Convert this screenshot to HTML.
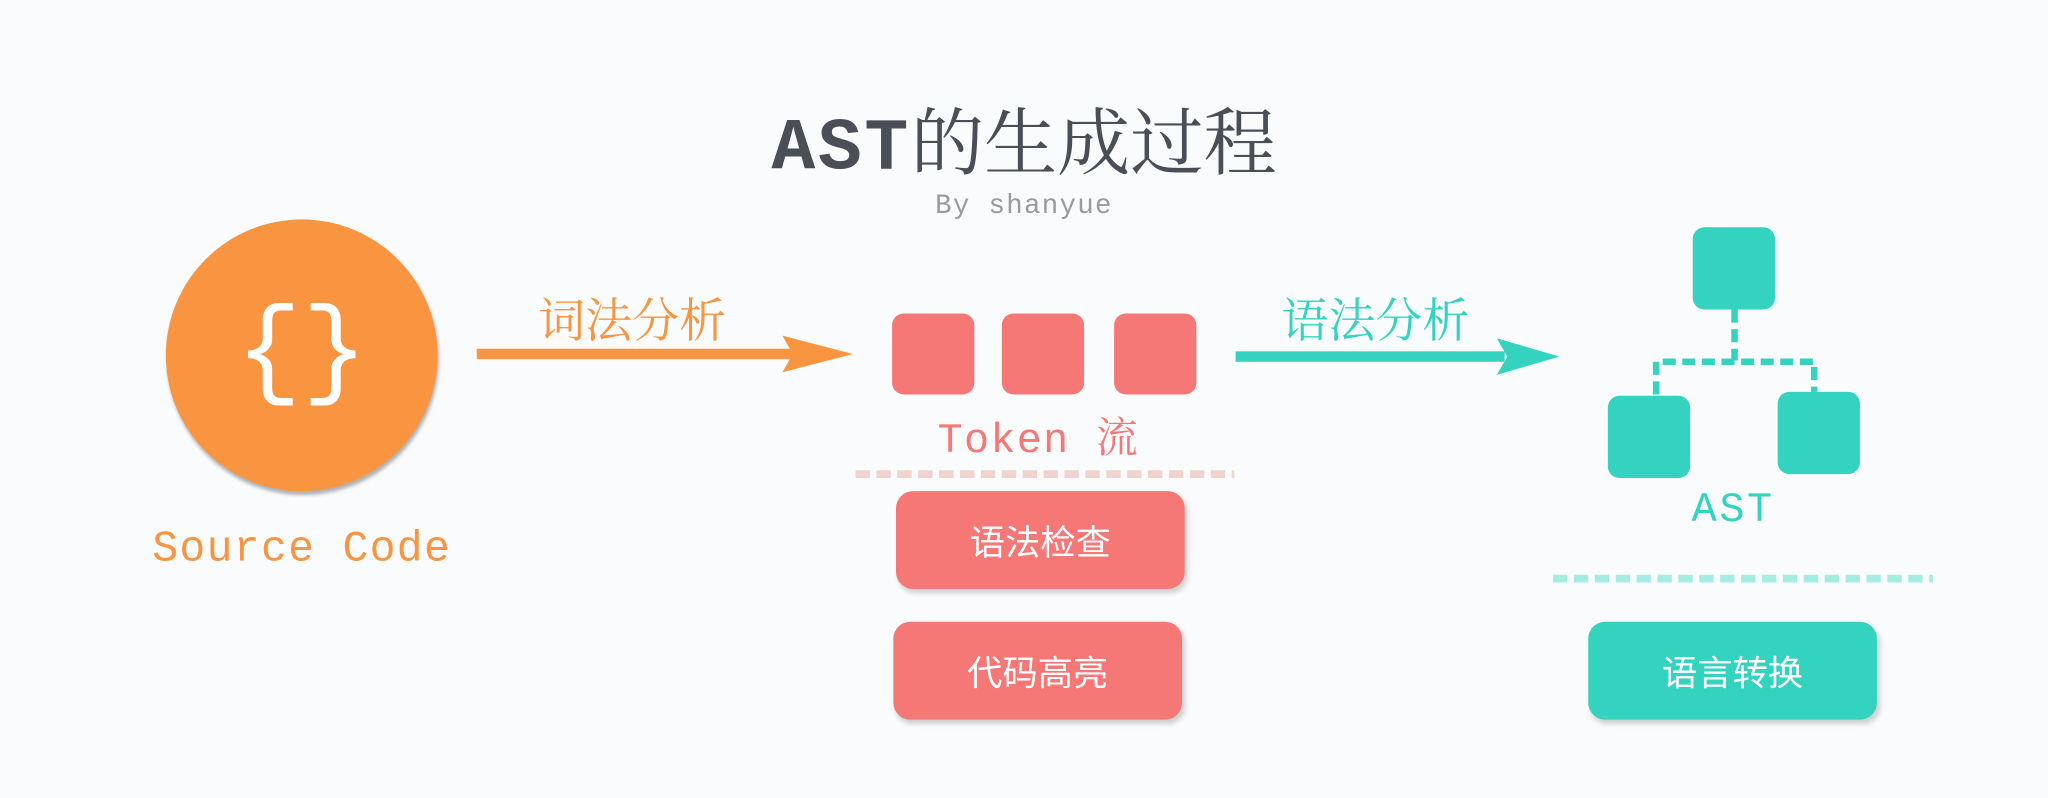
<!DOCTYPE html>
<html><head><meta charset="utf-8"><style>
html,body{margin:0;padding:0;background:#fafbfd;}
body{width:2048px;height:798px;overflow:hidden;}
#s{position:absolute;left:0;top:0;width:1568px;height:611px;transform:scale(1.30612);transform-origin:0 0;}
.t{position:absolute;white-space:nowrap;}
.mono{font-family:"Liberation Mono","Noto Serif CJK SC",monospace;}
.cjk{font-family:"Liberation Serif","Noto Serif CJK SC",serif;}
.r{position:absolute;border-radius:9px;}
.box{position:absolute;border-radius:13px;color:#fff;font-family:"Liberation Sans","Noto Sans CJK SC",sans-serif;font-size:27px;display:flex;align-items:center;justify-content:center;box-shadow:2px 3px 4px rgba(0,0,0,0.18);}
</style></head><body><div id="s">
<div class="t" style="left:0;width:1568px;top:66px;text-align:center;font-size:56px;color:#4a4e57;font-weight:bold;"><span class="mono" style="letter-spacing:2px">AST</span><span class="cjk" style="font-weight:normal">的生成过程</span></div>
<div class="t mono" style="left:0;width:1568px;top:147px;text-align:center;font-size:21px;color:#9a9a9a;letter-spacing:1px;">By shanyue</div>

<div style="position:absolute;left:127px;top:168px;width:208px;height:208px;border-radius:50%;background:#f99541;box-shadow:1px 3px 3px rgba(0,0,0,0.3);"></div>
<div class="t mono" style="left:127px;width:208px;top:222px;text-align:center;font-size:84px;color:#fff;line-height:100px;">{}</div>
<div class="t mono" style="left:81px;width:300px;top:402px;text-align:center;font-size:33px;color:#f99541;letter-spacing:1px;">Source Code</div>

<div class="t cjk" style="left:412px;top:218px;font-size:36px;color:#f99541;">词法分析</div>
<div class="t cjk" style="left:981px;top:218px;font-size:36px;color:#33d3c0;">语法分析</div>

<svg style="position:absolute;left:0;top:0" width="1568" height="611">
<rect x="365" y="267" width="242" height="8" fill="#f99541"/>
<polygon points="599,257 653,271 599,285 607,271" fill="#f99541"/>
<rect x="946" y="269" width="206" height="8" fill="#33d3c0"/>
<polygon points="1146,259 1194,273 1146,287 1154,273" fill="#33d3c0"/>
<line x1="655" y1="363" x2="945" y2="363" stroke="#efd3cc" stroke-width="6" stroke-dasharray="11,5"/>
<line x1="1189" y1="443" x2="1480" y2="443" stroke="#a5ede3" stroke-width="6" stroke-dasharray="11,5"/>
<g stroke="#33d3c0" stroke-width="5" stroke-dasharray="10,5" fill="none">
<line x1="1328" y1="237" x2="1328" y2="276"/>
<polyline points="1268,302 1268,277 1389,277 1389,300"/>
</g>
</svg>

<div class="r" style="left:683px;top:240px;width:63px;height:62px;background:#f57776;"></div>
<div class="r" style="left:767px;top:240px;width:63px;height:62px;background:#f57776;"></div>
<div class="r" style="left:853px;top:240px;width:63px;height:62px;background:#f57776;"></div>
<div class="t mono" style="left:645px;width:300px;top:310px;text-align:center;font-size:32px;color:#f57776;letter-spacing:1px;">Token 流</div>

<div class="box" style="left:686px;top:376px;width:221px;height:75px;background:#f57776;">语法检查</div>
<div class="box" style="left:684px;top:476px;width:221px;height:75px;background:#f57776;">代码高亮</div>

<div class="r" style="left:1296px;top:174px;width:63px;height:63px;background:#33d3c0;"></div>
<div class="r" style="left:1231px;top:303px;width:63px;height:63px;background:#33d3c0;"></div>
<div class="r" style="left:1361px;top:300px;width:63px;height:63px;background:#33d3c0;"></div>
<div class="t mono" style="left:1227px;width:200px;top:372px;text-align:center;font-size:32px;color:#33d3c0;letter-spacing:2px;">AST</div>

<div class="box" style="left:1216px;top:476px;width:221px;height:75px;background:#33d3c0;">语言转换</div>
</div></body></html>
